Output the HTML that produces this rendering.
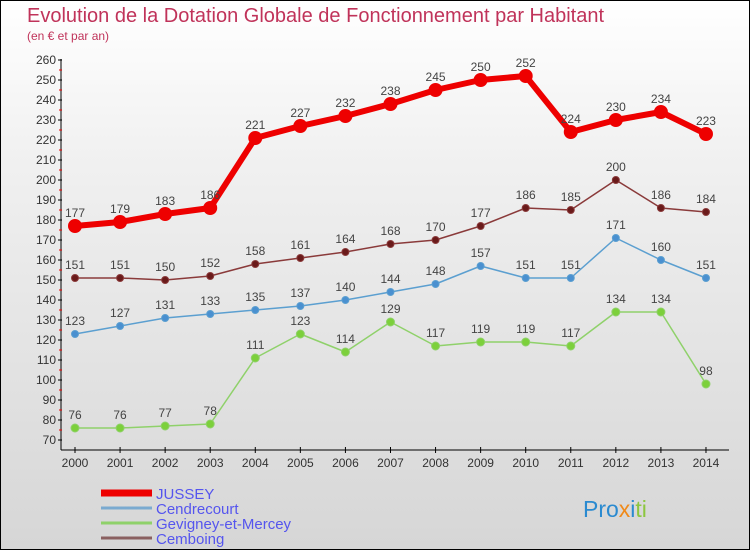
<!DOCTYPE html>
<html><head><meta charset="utf-8"><style>
body{margin:0}
#wrap{width:748px;height:548px;border:1px solid #000;background:linear-gradient(#fff,#f0f0f0 30%,#d6d6d6);position:relative;font-family:"Liberation Sans",sans-serif;overflow:hidden}
</style></head><body>
<div id="wrap">
<svg id="c" width="748" height="548"></svg>
</div>
<script>
const years=[2000,2001,2002,2003,2004,2005,2006,2007,2008,2009,2010,2011,2012,2013,2014];
const jussey=[177,179,183,186,221,227,232,238,245,250,252,224,230,234,223];
const cendrecourt=[123,127,131,133,135,137,140,144,148,157,151,151,171,160,151];
const gevigney=[76,76,77,78,111,123,114,129,117,119,119,117,134,134,98];
const cemboing=[151,151,150,152,158,161,164,168,170,177,186,185,200,186,184];
const yTicks=[70,80,90,100,110,120,130,140,150,160,170,180,190,200,210,220,230,240,250,260];
const NS="http://www.w3.org/2000/svg";
const svg=document.getElementById('c');
const X=i=>74+i*45.07;
const Y=v=>439-(v-70)*2;
function mk(t,a,p){const e=document.createElementNS(NS,t);for(const k in a)e.setAttribute(k,a[k]);(p||svg).appendChild(e);return e;}
let t=mk('text',{x:26,y:21,'font-size':20,fill:'#c0335a'});t.textContent='Evolution de la Dotation Globale de Fonctionnement par Habitant';


t=mk('text',{x:26,y:39,'font-size':12,fill:'#c0335a'});t.textContent='(en € et par an)';


let a=mk('line',{x1:60,y1:58,x2:60,y2:449,stroke:'#000','stroke-width':1});


a=mk('line',{x1:60,y1:449,x2:728,y2:449,stroke:'#000','stroke-width':1});


yTicks.forEach(v=>{
 mk('line',{x1:57,y1:Y(v),x2:61,y2:Y(v),stroke:'#000'});
 if(v<260)mk('line',{x1:58,y1:Y(v+5),x2:61,y2:Y(v+5),stroke:'#e00'});
 const e=mk('text',{x:55,y:Y(v)+4,'font-size':12,'text-anchor':'end',fill:'#333'});e.textContent=v;
 
 
});
years.forEach((y,i)=>{
 mk('line',{x1:X(i),y1:446,x2:X(i),y2:452,stroke:'#000'});
 const e=mk('text',{x:X(i),y:466,'font-size':12,'text-anchor':'middle',fill:'#333'});e.textContent=y;
 
 
});
function series(vals,color,dot,w,r,name){
 const g=mk('g',{});
 
 
 mk('polyline',{points:vals.map((v,i)=>X(i)+','+Y(v)).join(' '),fill:'none',stroke:color,'stroke-width':w,'stroke-linejoin':'round'},g);
 vals.forEach((v,i)=>{
  const c=mk('circle',{cx:X(i),cy:Y(v),r:r,fill:dot,stroke:color},g);
  
  
  const l=mk('text',{x:X(i),y:Y(v)-9,'font-size':12,'text-anchor':'middle',fill:'#444'},g);l.textContent=v;
  
  
 });
}
series(gevigney,'#8fd16a','#7cd03b',1.5,4,'gevigney');
series(cendrecourt,'#5b9fd0','#4a90d0',1.5,3.5,'cendrecourt');
series(cemboing,'#8a3a3a','#6a1a1a',1.5,3.5,'cemboing');
series(jussey,'#ee0000','#ee0000',6,6.5,'jussey');
const leg=[['JUSSEY','#ee0000',7],['Cendrecourt','#7aaad0',3],['Gevigney-et-Mercey','#8fd16a',3],['Cemboing','#8a6060',3]];
leg.forEach((l,i)=>{
 const g=mk('g',{});
 
 
 const y=492+i*15;
 mk('line',{x1:100,y1:y,x2:151,y2:y,stroke:l[1],'stroke-width':l[2]},g);
 const e=mk('text',{x:155,y:y+6,'font-size':15,fill:'#5555ee'},g);e.textContent=l[0];
});
const lg=mk('text',{x:582,y:516,'font-size':23,fill:'#f08a1a'});


lg.innerHTML='<tspan fill="#2a8ad0">Pro</tspan><tspan fill="#f08a1a">x</tspan><tspan fill="#2a8ad0">i</tspan><tspan fill="#8cc63f">ti</tspan>';
</script>
</body></html>
